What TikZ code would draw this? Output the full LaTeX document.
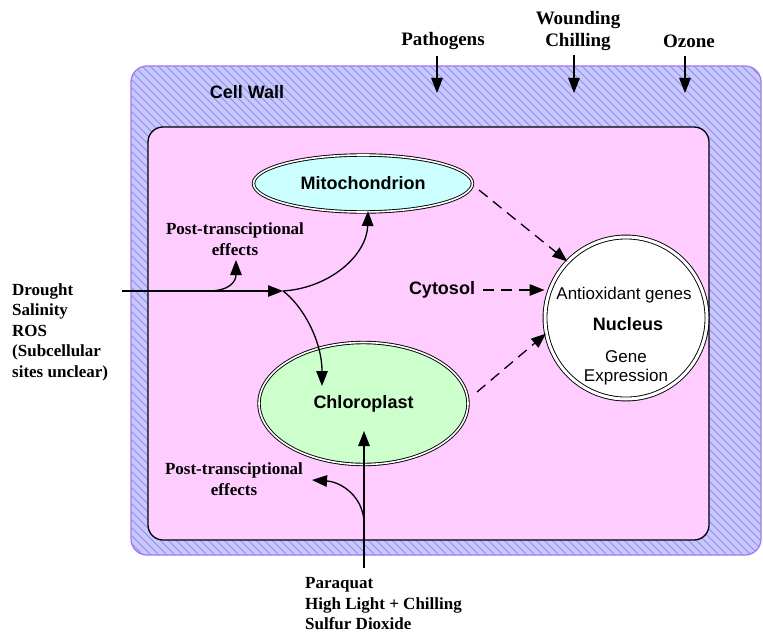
\documentclass[tikz,border=0pt]{standalone}
\usepackage{fontspec}
\setmainfont{Liberation Serif}
\newfontfamily\arialf{Liberation Sans}
\usetikzlibrary{arrows.meta,shapes.geometric}
\definecolor{wallfill}{HTML}{C8C8FF}
\definecolor{wallhatch}{HTML}{8E8EE4}
\definecolor{wallborder}{HTML}{A07CF0}
\definecolor{cytofill}{HTML}{FFCCFF}
\definecolor{mitofill}{HTML}{CCFFFF}
\definecolor{chlorofill}{HTML}{CCFFCC}
\begin{document}
\begin{tikzpicture}[x=1pt,y=-1pt,
  serifl/.style={font=\fontsize{17}{20.5}\selectfont\bfseries, inner sep=0pt},
  topl/.style={font=\fontsize{19}{22}\selectfont\bfseries, inner sep=0pt},
  sansb/.style={font=\arialf\fontsize{18}{20}\selectfont\bfseries, inner sep=0pt},
  sansr/.style={font=\arialf\fontsize{17}{19}\selectfont, inner sep=0pt},
  organelle/.style={ellipse, draw=black, double=white, double distance=1.6pt, line width=0.9pt, inner sep=0pt},
  arr/.style={line width=1.3pt, -{Triangle[length=15pt,width=11.5pt]}},
  darr/.style={arr, dash pattern=on 11pt off 7pt},
  hatch/.style={wallhatch, line width=0.8pt},
]
\useasboundingbox (0,0) rectangle (763,634);
% cell wall
\fill[wallfill, rounded corners=16pt] (131,66) rectangle (761,555);
\begin{scope}
  \clip[rounded corners=16pt] (131,66) rectangle (761,555);
  \foreach \i in {-560,-552,...,770} \draw[hatch] (\i,60) -- ++(510,510);
\end{scope}
\draw[wallborder, line width=1.3pt, rounded corners=16pt] (131,66) rectangle (761,555);
% cytoplasm
\draw[fill=cytofill, line width=1.3pt, rounded corners=15pt] (148,127) rectangle (709,540);

\node[sansb] (wall) at (247,92) {Cell Wall};

% organelles
\node[organelle, sansb, fill=mitofill, minimum width=219pt, minimum height=57pt] (mito) at (363,183.5) {Mitochondrion};
\node[organelle, sansb, fill=chlorofill, minimum width=209pt, minimum height=122pt] (chloro) at (363.5,403.5) {Chloroplast};
\node[circle, draw=black, double=white, double distance=3pt, line width=0.9pt, fill=white, minimum size=162pt] (nuc) at (626,318) {};
\node[sansr] (antiox) at (624,295) {Antioxidant genes};
\node[sansb] (nucl) at (628,324) {Nucleus};
\node[sansr, align=center, font=\arialf\fontsize{17}{18.5}\selectfont] (gexp) at (626,368) {Gene\\Expression};
\node[sansb] (cyto) at (442,290) {Cytosol};

% outside labels
\node[topl] (pat) at (443,41) {Pathogens};
\node[topl, align=center] (wound) at (578,31) {Wounding\\Chilling};
\node[topl] (ozone) at (689,41) {Ozone};
\node[serifl, align=left, anchor=west] (drought) at (12,332) {Drought\\Salinity\\ROS\\(Subcellular\\sites unclear)};
\node[serifl, align=left, anchor=west] (para) at (305,604) {Paraquat\\High Light + Chilling\\Sulfur Dioxide};
\node[serifl, align=center] (post1) at (235,239) {Post-transciptional\\effects};
\node[serifl, align=center] (post2) at (234,479) {Post-transciptional\\effects};

% coordinates
\coordinate (pa) at (437,56);  \coordinate (pb) at (437,93);
\coordinate (wa) at (574,55);  \coordinate (wb) at (574,93);
\coordinate (oa) at (685,56);  \coordinate (ob) at (685,93);
\coordinate (dstart) at (122,291);
\coordinate (junc) at (283,291);
\coordinate (br1) at (208,291);
\coordinate (tip1) at (236,260);
\coordinate (mtip) at (368,211);
\coordinate (ctip) at (322,386);
\coordinate (vstart) at (364,568);
\coordinate (vtip) at (364,431);
\coordinate (br2) at (364,522);
\coordinate (tip2) at (312,480);
\coordinate (mds) at (479,190);
\coordinate (cds) at (477,392);
\coordinate (cyst) at ([xshift=8pt]cyto.east);

% top arrows
\draw[arr] (pa) -- (pb);
\draw[arr] (wa) -- (wb);
\draw[arr] (oa) -- (ob);

% drought paths
\draw[arr] (dstart) -- (junc);
\draw[arr] (br1) .. controls (229,291) and (236,282) .. (tip1);
\draw[arr] (junc) .. controls (330,288) and (367,255) .. (mtip);
\draw[arr] (junc) .. controls (302,305) and (322,340) .. (ctip);

% paraquat paths
\draw[arr] (vstart) -- (vtip);
\draw[arr] (br2) .. controls (363,497) and (342,482) .. (tip2);

% dashed arrows to nucleus
\draw[darr] (mds) -- (nuc.136);
\draw[darr] (cyst) -- (cyst -| nuc.west);
\draw[darr] (cds) -- (nuc.191);
\end{tikzpicture}
\end{document}
